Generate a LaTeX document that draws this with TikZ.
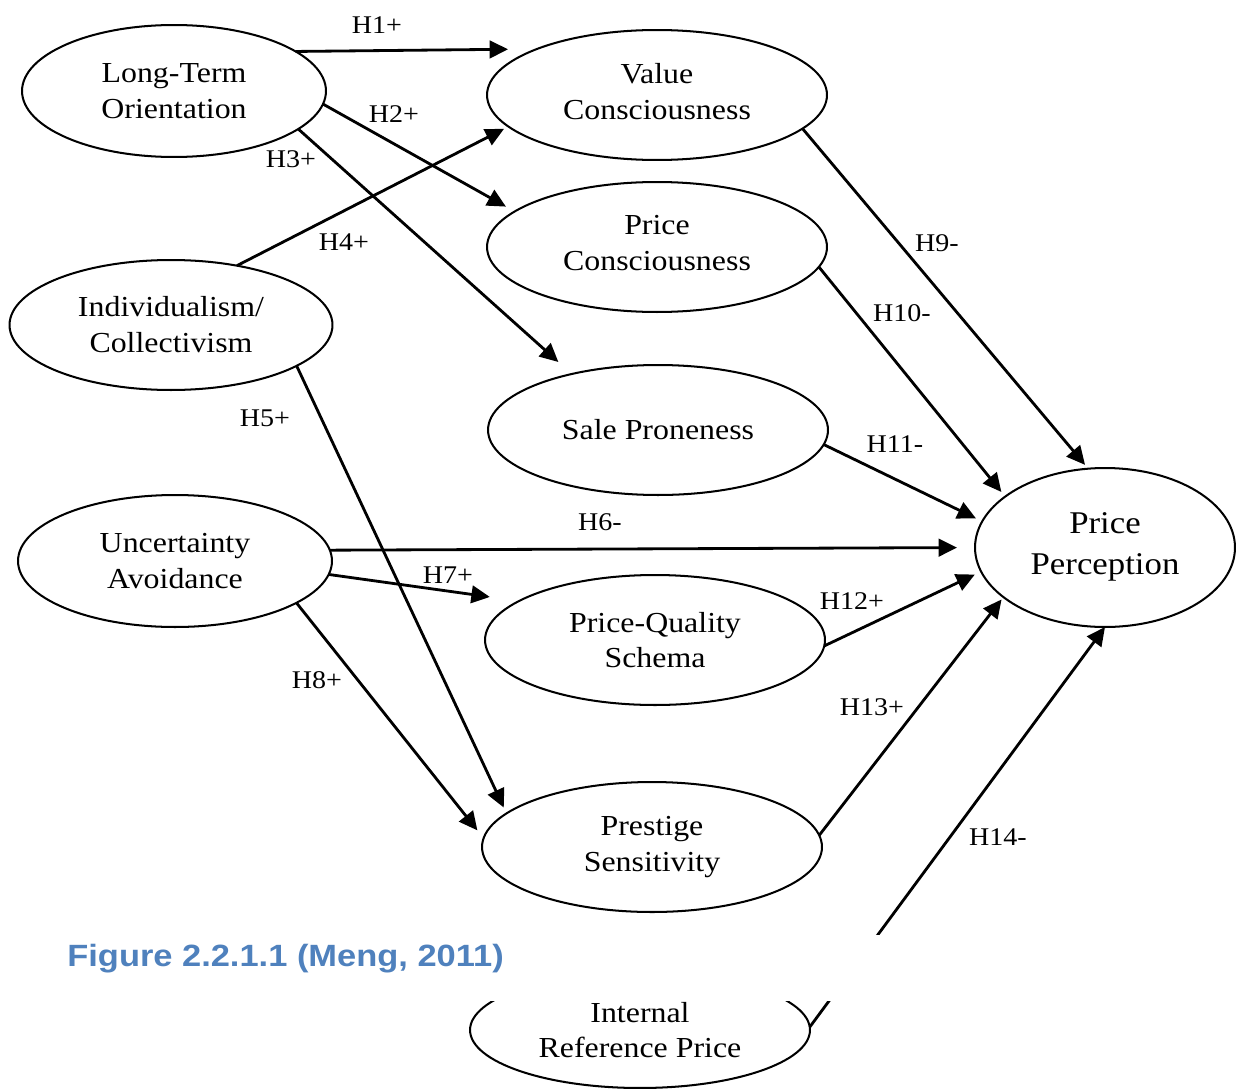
\documentclass[tikz,border=0pt]{standalone}
\usepackage{fontspec}
\setmainfont[FakeStretch=1.1]{Liberation Serif}
\newfontfamily\capfont[FakeStretch=1.12]{Liberation Sans}
\usetikzlibrary{shapes.geometric,arrows.meta}
\definecolor{capblue}{RGB}{79,129,189}
\newcommand{\lowpad}{\rule[-4.5pt]{0pt}{0pt}}
\begin{document}
\begin{tikzpicture}[x=0.02cm,y=-0.02cm,
  var/.style={ellipse,draw,line width=1.15pt,inner sep=0pt,outer sep=0pt,align=center,
    minimum width=6.8cm,minimum height=2.6cm,font=\fontsize{16.5}{20.4}\selectfont},
  hyp/.style={line width=1.6pt,-{Triangle[length=10.5pt,width=10pt]}},
  lab/.style={font=\fontsize{14.5}{17}\selectfont,inner sep=0pt}]
\useasboundingbox (0,0) rectangle (1236,1088);
% variables
\node[var,minimum width=6.08cm,minimum height=2.64cm] (lto) at (174,91) {Long-Term\\Orientation};
\node[var] (vc) at (657,95) {Value\\Consciousness\lowpad};
\node[var] (pc) at (657,247) {Price\\Consciousness\lowpad};
\node[var,minimum width=6.46cm] (ic) at (171,325) {Individualism/\\Collectivism};
\node[var] (sale) at (658,430) {Sale Proneness};
\node[var,minimum width=6.28cm,minimum height=2.64cm] (ua) at (175,561) {Uncertainty\\Avoidance};
\node[var] (pqs) at (655,640) {Price-Quality\\Schema};
\node[var] (ps) at (652,847) {Prestige\\Sensitivity};
\node[var,minimum width=5.2cm,minimum height=3.18cm,font=\fontsize{18}{23.2}\selectfont] (pp) at (1105,547.5) {Price\\Perception\lowpad};
\node[var,minimum height=2.32cm] (irp) at (640,1030) {Internal\\Reference Price};
% hypotheses
\draw[hyp,shorten >=0.58cm] (lto.18.4) -- (vc.159.9);
\draw[hyp,shorten >=0.2cm] (lto.-5.4) -- (pc.166.2);
\draw[hyp,shorten >=0.36cm] (lto.-17.2) -- (sale.147.5);
\draw[hyp,shorten >=0.1cm] (ic.42.3) -- (vc.192.5);
\draw[hyp,shorten >=0.13cm] (ic.-18.2) -- (ps.167.3);
\draw[hyp,shorten >=0.36cm] (ua.4.8) -- (pp.180);
\draw[hyp,shorten >=0.59cm] (ua.-5.1) -- (pqs.164.9);
\draw[hyp,shorten >=0.2cm] (ua.-19) -- (ps.177.9);
\draw[hyp,shorten >=0.1cm] (vc.-13.5) -- (pp.102.1);
\draw[hyp,shorten >=0.12cm] (pc.-7.25) -- (pp.153.8);
\draw[hyp,shorten >=0.14cm] (sale.-5.2) -- (pp.168.8);
\draw[hyp,shorten >=0.14cm] (pqs.-2.7) -- (pp.191.2);
\draw[hyp,shorten >=0.06cm] (ps.4.8) -- (pp.206.4);
\draw[hyp] (irp.1) -- (pp.-90.5);
% labels
\node[lab] (l1) at (377,25) {H1+};
\node[lab] (l2) at (394,114) {H2+};
\node[lab] (l3) at (291,159) {H3+};
\node[lab] (l4) at (344,242) {H4+};
\node[lab] (l5) at (265,418) {H5+};
\node[lab] (l6) at (600,522) {H6-};
\node[lab] (l7) at (448,575) {H7+};
\node[lab] (l8) at (317,680) {H8+};
\node[lab] (l9) at (937,243) {H9-};
\node[lab] (l10) at (902,313) {H10-};
\node[lab] (l11) at (895,444) {H11-};
\node[lab] (l12) at (852,601) {H12+};
\node[lab] (l13) at (872,707) {H13+};
\node[lab] (l14) at (998,837) {H14-};
% caption band
\fill[white] (0,935) rectangle (1236,1001);
\node[anchor=base west,inner sep=0pt,text=capblue,font=\capfont\bfseries\fontsize{17.5}{21}\selectfont] (cap) at (67,966) {Figure 2.2.1.1 (Meng, 2011)};
\end{tikzpicture}
\end{document}
